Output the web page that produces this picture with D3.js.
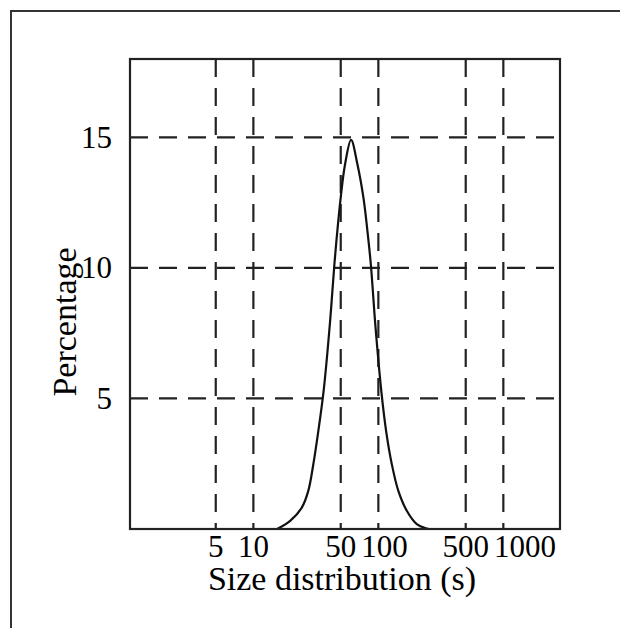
<!DOCTYPE html>
<html>
<head>
<meta charset="utf-8">
<script src="https://d3js.org/d3.v7.min.js"></script>
<style>
  body { margin: 0; background: #fff; }
  svg { display: block; }
  text { font-family: "Liberation Serif", "Times New Roman", serif; fill: #000; }
</style>
</head>
<body>
<div id="chart"></div>
<script>
// values
var sizes = [15.5, 19.7, 24.4, 27.5, 30.2, 33.1, 36.5, 41, 44.5, 47, 50, 54.2, 60.5,
             67.9, 75.9, 81.7, 87, 95, 105.5, 115.3, 128, 144.5, 168.8, 202.9, 243.9, 255];
var percent = [0, 0.31, 0.82, 1.46, 2.49, 3.76, 5.3, 7.9, 10.15, 11.43, 12.7, 13.98, 14.9,
               13.98, 12.7, 11.43, 10.15, 7.7, 5.3, 3.76, 2.49, 1.46, 0.7, 0.19, 0.02, 0];
var xTicks = [5, 10, 50, 100, 500, 1000];
var yTicks = [5, 10, 15];

var W = 620, H = 628;
var plot = { left: 130, right: 560, top: 59, bottom: 529 };

var svg = d3.select("#chart").append("svg")
  .attr("width", W).attr("height", H);

// outer frame (only top and left edge visible)
svg.append("rect")
  .attr("x", 11).attr("y", 11)
  .attr("width", 700).attr("height", 700)
  .attr("fill", "none").attr("stroke", "#333").attr("stroke-width", 2);

var x = d3.scaleLog().domain([1.03, 2840]).range([plot.left, plot.right]);
var y = d3.scaleLinear().domain([0, 18]).range([plot.bottom, plot.top]);

// grid
svg.selectAll(".vgrid").data(xTicks).enter().append("line")
  .attr("class", "vgrid")
  .attr("x1", d => x(d)).attr("x2", d => x(d))
  .attr("y1", plot.top).attr("y2", plot.bottom)
  .attr("stroke", "#222").attr("stroke-width", 2.2)
  .attr("stroke-dasharray", "18,11");

svg.selectAll(".hgrid").data(yTicks).enter().append("line")
  .attr("class", "hgrid")
  .attr("x1", plot.left).attr("x2", plot.right)
  .attr("y1", d => y(d)).attr("y2", d => y(d))
  .attr("stroke", "#222").attr("stroke-width", 2.2)
  .attr("stroke-dasharray", "18,11");

// curve
var line = d3.line()
  .x((d, i) => x(sizes[i]))
  .y(d => y(d))
  .curve(d3.curveCatmullRom.alpha(0.5));

svg.append("path")
  .attr("d", line(percent))
  .attr("fill", "none")
  .attr("stroke", "#111")
  .attr("stroke-width", 2.2);

// plot frame
svg.append("rect")
  .attr("x", plot.left).attr("y", plot.top)
  .attr("width", plot.right - plot.left).attr("height", plot.bottom - plot.top)
  .attr("fill", "none").attr("stroke", "#222").attr("stroke-width", 2.2);

// y tick labels
svg.selectAll(".ylab").data(yTicks).enter().append("text")
  .attr("x", plot.left - 18)
  .attr("y", d => y(d))
  .attr("dy", "0.34em")
  .attr("text-anchor", "end")
  .style("font-size", "31px")
  .text(d => d);

// x tick labels, pushed right when they would collide
var prevEnd = -Infinity;
xTicks.forEach(function (d) {
  var t = svg.append("text")
    .attr("y", 557)
    .attr("text-anchor", "start")
    .style("font-size", "31px")
    .text(d);
  var w = t.node().getComputedTextLength();
  var start = Math.max(x(d) - w / 2, prevEnd + 5);
  t.attr("x", start);
  prevEnd = start + w;
});

// axis titles
svg.append("text")
  .attr("x", (plot.left + plot.right) / 2 - 3)
  .attr("y", 590)
  .attr("text-anchor", "middle")
  .style("font-size", "34px")
  .text("Size distribution (s)");

svg.append("text")
  .attr("transform", "translate(76,322) rotate(-90)")
  .attr("text-anchor", "middle")
  .style("font-size", "34px")
  .text("Percentage");
</script>
</body>
</html>
